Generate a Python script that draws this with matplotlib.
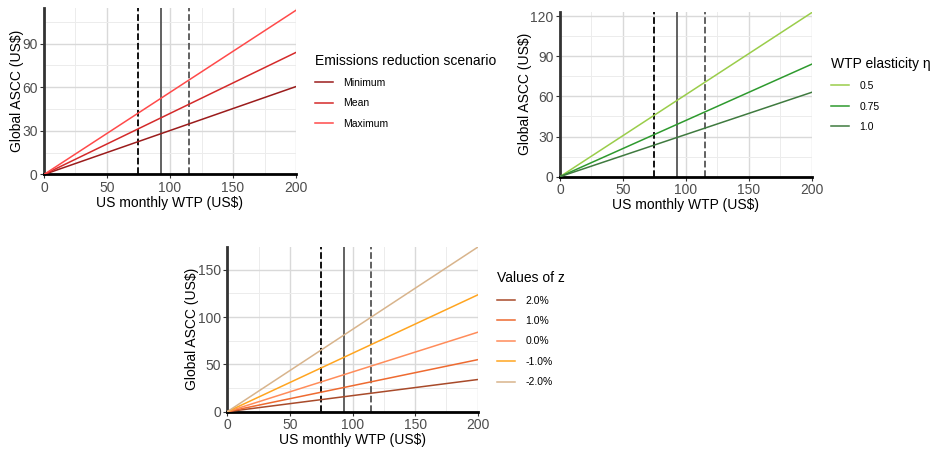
import matplotlib.pyplot as plt
from matplotlib.ticker import MultipleLocator

plt.rcParams["font.family"] = ["Liberation Sans", "DejaVu Sans"]

# shared x range (US monthly WTP)
wtp = [0, 200]

# panel 1: emissions reduction scenario, ASCC at WTP = 0 and 200
scen_labels = ["Minimum", "Mean", "Maximum"]
scen_values = [[0, 60.5], [0, 84], [0, 113]]
scen_colors = ["#9b1c1c", "#d42a2a", "#ff4a4a"]

# panel 2: WTP elasticity
eta_labels = ["0.5", "0.75", "1.0"]
eta_values = [[0, 122.5], [0, 84], [0, 63]]
eta_colors = ["#9acd4a", "#2e9a2e", "#3f7a3f"]

# panel 3: values of z
z_labels = ["2.0%", "1.0%", "0.0%", "-1.0%", "-2.0%"]
z_values = [[0, 34], [0, 55], [0, 84], [0, 123.5], [0, 174]]
z_colors = ["#a84a2a", "#ee6a30", "#ff8c5a", "#ffa520", "#d8b48c"]

vlines = [(75, "--", "black"), (93, "-", "#555555"), (115, "--", "#555555")]

fig = plt.figure(figsize=(9.4, 4.49), dpi=100)

panels = [
    ([0.0468, 0.6114, 0.2681, 0.3706], scen_labels, scen_values, scen_colors,
     114.5, 30, "Emissions reduction scenario", 0.50),
    ([0.5957, 0.6065, 0.2678, 0.3668], eta_labels, eta_values, eta_colors,
     123.0, 30, "WTP elasticity \u03b7", 0.50),
    ([0.2418, 0.0831, 0.2664, 0.3675], z_labels, z_values, z_colors,
     174.5, 50, "Values of z", 0.50),
]

for rect, labels, values, colors, ymax, ystep, title, leg_y in panels:
    ax = fig.add_axes(rect)
    ax.set_xlim(0, 200)
    ax.set_ylim(0, ymax)
    ax.xaxis.set_major_locator(MultipleLocator(50))
    ax.xaxis.set_minor_locator(MultipleLocator(25))
    ax.yaxis.set_major_locator(MultipleLocator(ystep))
    ax.yaxis.set_minor_locator(MultipleLocator(ystep / 2))
    ax.grid(which="major", color="#d9d9d9", linewidth=1.0)
    ax.grid(which="minor", color="#ececec", linewidth=0.7)
    ax.set_axisbelow(True)
    for s in ["top", "right"]:
        ax.spines[s].set_visible(False)
    ax.spines["left"].set_linewidth(2)
    ax.spines["left"].set_color("#333333")
    ax.spines["bottom"].set_linewidth(2)
    ax.spines["bottom"].set_color("black")
    ax.tick_params(which="major", length=3, width=0.8, color="#333333",
                   labelsize=10, labelcolor="#4d4d4d", pad=1.5)
    ax.tick_params(which="minor", length=0)

    for x, ls, c in vlines:
        ax.axvline(x, linestyle=ls, color=c, linewidth=1.3, zorder=2)

    for lab, vals, col in zip(labels, values, colors):
        ax.plot(wtp, vals, color=col, linewidth=1.1, label=lab, zorder=3)

    ax.set_xlabel("US monthly WTP (US$)", fontsize=10, labelpad=1)
    ax.set_ylabel("Global ASCC (US$)", fontsize=10, labelpad=-1)

    leg = ax.legend(loc="center left", bbox_to_anchor=(1.04, leg_y), frameon=False,
                    title=title, fontsize=7.5, title_fontsize=10,
                    handlelength=1.7, labelspacing=1.0, handletextpad=1.0)
    leg._legend_box.align = "left"

fig.savefig("out.png", dpi=100)
